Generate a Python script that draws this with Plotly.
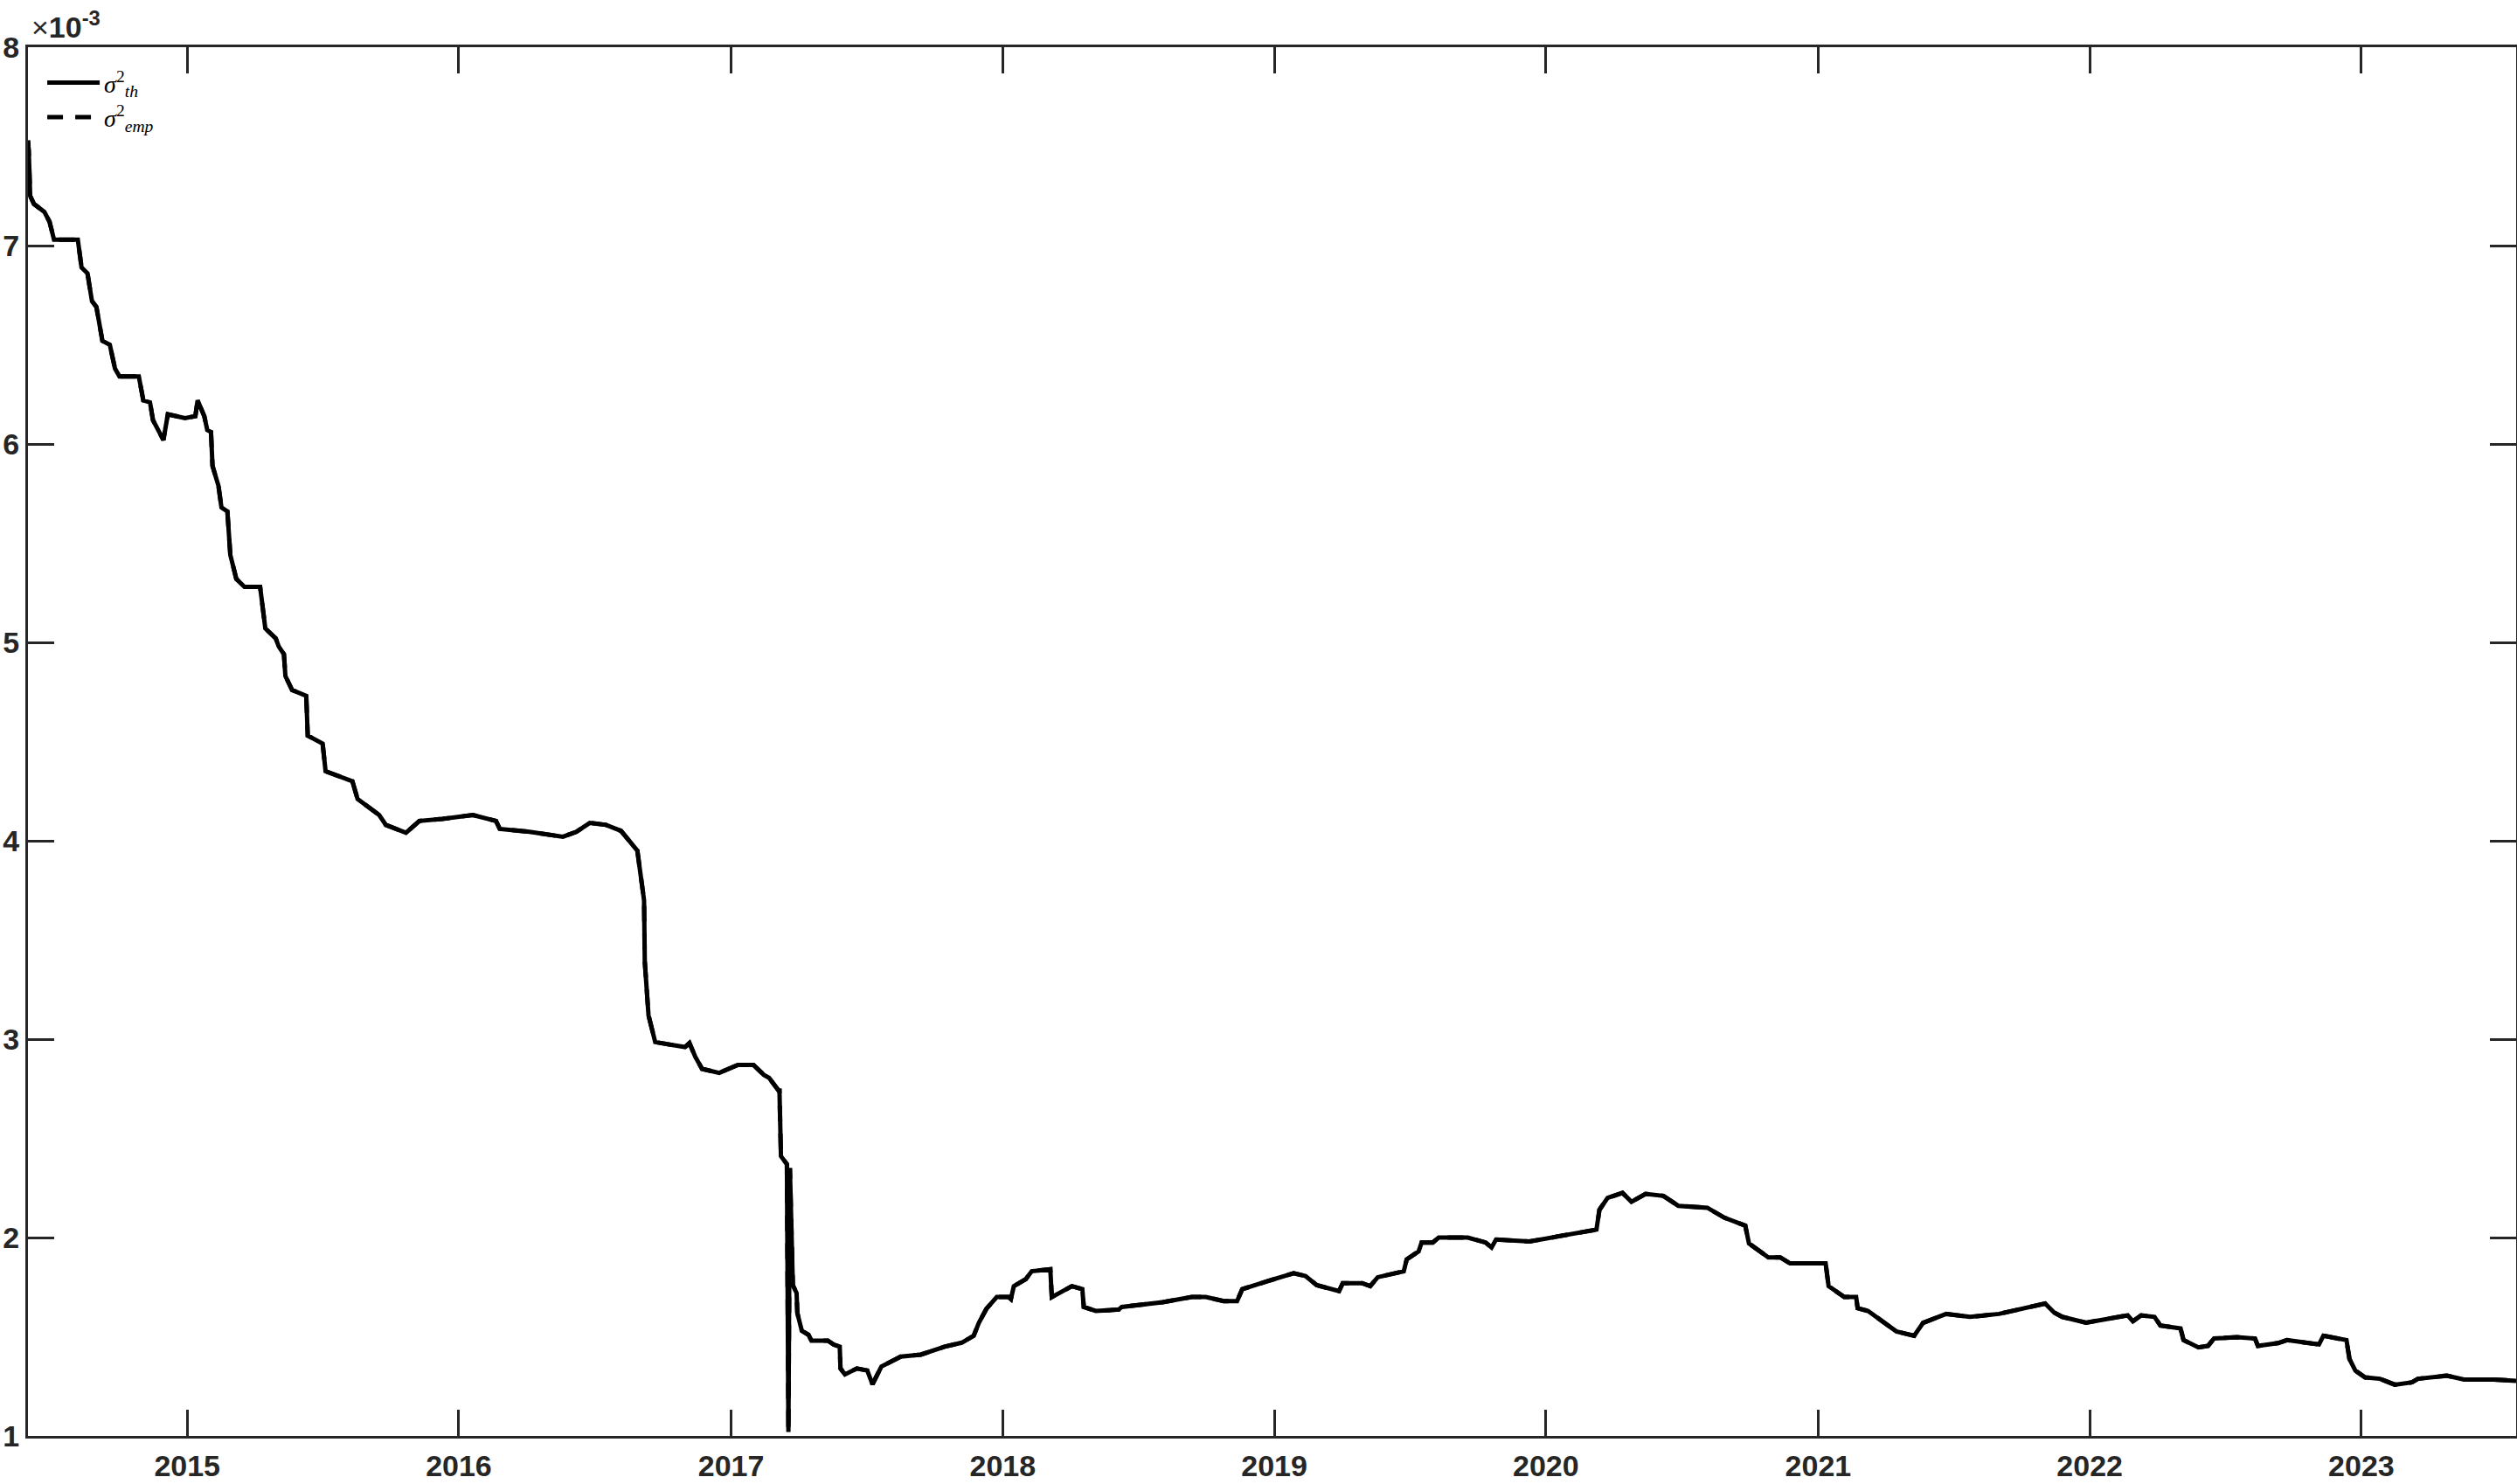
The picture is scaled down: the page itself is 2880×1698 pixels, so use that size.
import plotly.graph_objects as go

# sigma^2 values in units of 1e-3
dates = [
    "2014-06-01", "2014-06-02", "2014-06-04", "2014-06-09", "2014-06-23", "2014-06-30",
    "2014-07-06", "2014-08-07", "2014-08-12", "2014-08-20", "2014-08-26", "2014-09-01",
    "2014-09-09", "2014-09-19", "2014-09-26", "2014-10-02", "2014-10-28", "2014-11-03",
    "2014-11-12", "2014-11-16", "2014-11-30", "2014-12-06", "2014-12-29", "2015-01-12",
    "2015-01-15", "2015-01-24", "2015-01-28", "2015-02-02", "2015-02-04", "2015-02-12",
    "2015-02-16", "2015-02-24", "2015-02-28", "2015-03-08", "2015-03-19", "2015-04-09",
    "2015-04-16", "2015-04-30", "2015-05-04", "2015-05-11", "2015-05-13", "2015-05-22",
    "2015-06-10", "2015-06-12", "2015-07-02", "2015-07-06", "2015-08-11", "2015-08-18",
    "2015-09-16", "2015-09-25", "2015-10-22", "2015-11-09", "2015-12-10", "2015-12-28",
    "2016-01-20", "2016-02-20", "2016-02-25", "2016-04-05", "2016-04-28", "2016-05-20",
    "2016-06-07", "2016-06-25", "2016-07-17", "2016-08-06", "2016-08-28", "2016-08-31",
    "2016-09-06", "2016-09-07", "2016-09-12", "2016-09-21", "2016-10-31", "2016-11-06",
    "2016-11-14", "2016-11-23", "2016-12-16", "2017-01-10", "2017-01-31", "2017-02-14",
    "2017-02-21", "2017-03-06", "2017-03-07", "2017-03-09", "2017-03-17", "2017-03-19",
    "2017-03-21", "2017-03-25", "2017-03-30", "2017-03-31", "2017-04-06", "2017-04-15",
    "2017-04-19", "2017-05-11", "2017-05-19", "2017-05-27", "2017-05-28", "2017-06-03",
    "2017-06-19", "2017-07-03", "2017-07-10", "2017-07-22", "2017-08-17", "2017-09-13",
    "2017-09-29", "2017-10-15", "2017-11-07", "2017-11-23", "2017-11-30", "2017-12-10",
    "2017-12-24", "2018-01-09", "2018-01-12", "2018-01-16", "2018-02-01", "2018-02-09",
    "2018-03-06", "2018-03-08", "2018-04-04", "2018-04-18", "2018-04-20", "2018-05-06",
    "2018-06-06", "2018-06-10", "2018-08-04", "2018-09-12", "2018-10-01", "2018-10-25",
    "2018-11-12", "2018-11-19", "2018-12-23", "2019-01-11", "2019-01-27", "2019-02-12",
    "2019-02-27", "2019-03-29", "2019-04-03", "2019-04-29", "2019-05-10", "2019-05-20",
    "2019-06-24", "2019-06-28", "2019-07-14", "2019-07-18", "2019-08-02", "2019-08-10",
    "2019-09-18", "2019-10-12", "2019-10-20", "2019-10-26", "2019-12-10", "2020-03-09",
    "2020-03-13", "2020-03-24", "2020-04-13", "2020-04-25", "2020-05-14", "2020-06-07",
    "2020-06-27", "2020-08-05", "2020-08-28", "2020-09-25", "2020-09-30", "2020-10-26",
    "2020-11-11", "2020-11-24", "2021-01-11", "2021-01-15", "2021-02-05", "2021-02-21",
    "2021-02-23", "2021-03-09", "2021-04-16", "2021-05-10", "2021-05-22", "2021-06-22",
    "2021-07-24", "2021-09-01", "2021-11-02", "2021-11-14", "2021-11-25", "2021-12-27",
    "2022-02-04", "2022-02-21", "2022-02-28", "2022-03-11", "2022-03-29", "2022-04-06",
    "2022-05-03", "2022-05-07", "2022-05-27", "2022-06-09", "2022-06-17", "2022-07-18",
    "2022-08-11", "2022-08-15", "2022-09-11", "2022-09-23", "2022-11-05", "2022-11-11",
    "2022-12-12", "2022-12-16", "2022-12-24", "2023-01-06", "2023-01-26", "2023-02-15",
    "2023-03-10", "2023-03-18", "2023-04-26", "2023-05-19", "2023-06-28", "2023-07-28",
]
sigma_th = [
    7.53, 7.48, 7.25, 7.21, 7.17, 7.12,
    7.03, 7.03, 6.89, 6.86, 6.72, 6.69,
    6.52, 6.50, 6.38, 6.34, 6.34, 6.22,
    6.21, 6.12, 6.02, 6.15, 6.13, 6.14,
    6.22, 6.14, 6.07, 6.06, 5.89, 5.79,
    5.68, 5.66, 5.44, 5.32, 5.28, 5.28,
    5.07, 5.02, 4.98, 4.94, 4.83, 4.76,
    4.73, 4.53, 4.49, 4.35, 4.30, 4.21,
    4.13, 4.08, 4.04, 4.10, 4.11, 4.12,
    4.13, 4.10, 4.06, 4.045, 4.03, 4.02,
    4.045, 4.09, 4.08, 4.05, 3.95, 3.87,
    3.70, 3.39, 3.12, 2.985, 2.96, 2.98,
    2.91, 2.85, 2.83, 2.87, 2.87, 2.82,
    2.805, 2.74, 2.74, 2.41, 2.37, 1.02,
    2.35, 1.76, 1.72, 1.62, 1.53, 1.51,
    1.48, 1.48, 1.46, 1.45, 1.34, 1.31,
    1.34, 1.33, 1.26, 1.35, 1.40, 1.41,
    1.43, 1.45, 1.47, 1.505, 1.57, 1.64,
    1.70, 1.70, 1.69, 1.755, 1.79, 1.83,
    1.84, 1.70, 1.755, 1.74, 1.65, 1.63,
    1.637, 1.65, 1.674, 1.70, 1.70, 1.68,
    1.68, 1.74, 1.78, 1.80, 1.82, 1.806,
    1.76, 1.73, 1.77, 1.77, 1.755, 1.80,
    1.83, 1.89, 1.93, 1.975, 1.975, 2.00,
    2.00, 1.975, 1.95, 1.99, 1.98, 2.04,
    2.14, 2.20, 2.225, 2.18, 2.22, 2.21,
    2.16, 2.15, 2.10, 2.06, 1.97, 1.90,
    1.90, 1.87, 1.87, 1.755, 1.70, 1.70,
    1.644, 1.63, 1.527, 1.505, 1.57, 1.615,
    1.60, 1.615, 1.667, 1.622, 1.60, 1.571,
    1.593, 1.608, 1.578, 1.608, 1.60, 1.556,
    1.542, 1.483, 1.446, 1.454, 1.491, 1.498,
    1.491, 1.454, 1.468, 1.483, 1.461, 1.505,
    1.483, 1.388, 1.329, 1.295, 1.288, 1.258,
    1.270, 1.288, 1.304, 1.284, 1.284, 1.278,
]
# empirical curve coincides with the theoretical one in the picture
sigma_emp = list(sigma_th)

year_ticks = ["2015-01-01", "2016-01-01", "2017-01-01", "2018-01-01", "2019-01-01",
              "2020-01-01", "2021-01-01", "2022-01-01", "2023-01-01"]
y_ticks = [1, 2, 3, 4, 5, 6, 7, 8]

axis_col = "#262626"
tick_font = dict(family="Liberation Sans, Arial, sans-serif", size=34, color=axis_col, weight=700)

fig = go.Figure()
fig.add_trace(go.Scatter(x=dates, y=sigma_th, mode="lines",
                         line=dict(color="black", width=5),
                         name="<i>σ</i><sup>2</sup><sub><i>th</i></sub>"))
fig.add_trace(go.Scatter(x=dates, y=sigma_emp, mode="lines",
                         line=dict(color="black", width=5, dash="18px,14px"),
                         name="<i>σ</i><sup>2</sup><sub><i>emp</i></sub>"))

fig.update_xaxes(type="date", range=["2014-06-01", "2023-07-28"],
                 tickvals=year_ticks, tickformat="%Y", ticklabelstandoff=2,
                 ticks="inside", ticklen=30, tickwidth=3, tickcolor=axis_col,
                 showline=True, linecolor=axis_col, linewidth=3, mirror="allticks",
                 showgrid=False, zeroline=False, tickfont=tick_font, automargin=False)
fig.update_yaxes(range=[1, 8], tickvals=y_ticks,
                 ticks="inside", ticklen=30, tickwidth=3, tickcolor=axis_col,
                 showline=True, linecolor=axis_col, linewidth=3, mirror="allticks",
                 showgrid=False, zeroline=False, tickfont=tick_font, automargin=False)

fig.add_annotation(xref="paper", yref="paper", x=0, y=1, xanchor="left", yanchor="bottom",
                   xshift=2, yshift=2, showarrow=False,
                   text="×<b>10<sup>-3</sup></b>",
                   font=dict(family="Liberation Sans, Arial, sans-serif", size=34, color=axis_col))

fig.update_layout(
    width=2880, height=1698,
    margin=dict(l=32, r=1, t=54, b=55),
    paper_bgcolor="white", plot_bgcolor="white",
    showlegend=True,
    legend=dict(x=0.006, y=0.99, xanchor="left", yanchor="top",
                bgcolor="rgba(0,0,0,0)", borderwidth=0, itemwidth=60,
                tracegroupgap=0,
                font=dict(family="Liberation Serif, Times New Roman, serif", size=28, color="black")),
)

# drop the default 8px page margin so the figure fills the window
fig.write_html("out.html", config={"displayModeBar": False},
               post_script="document.body.style.margin = '0';")
